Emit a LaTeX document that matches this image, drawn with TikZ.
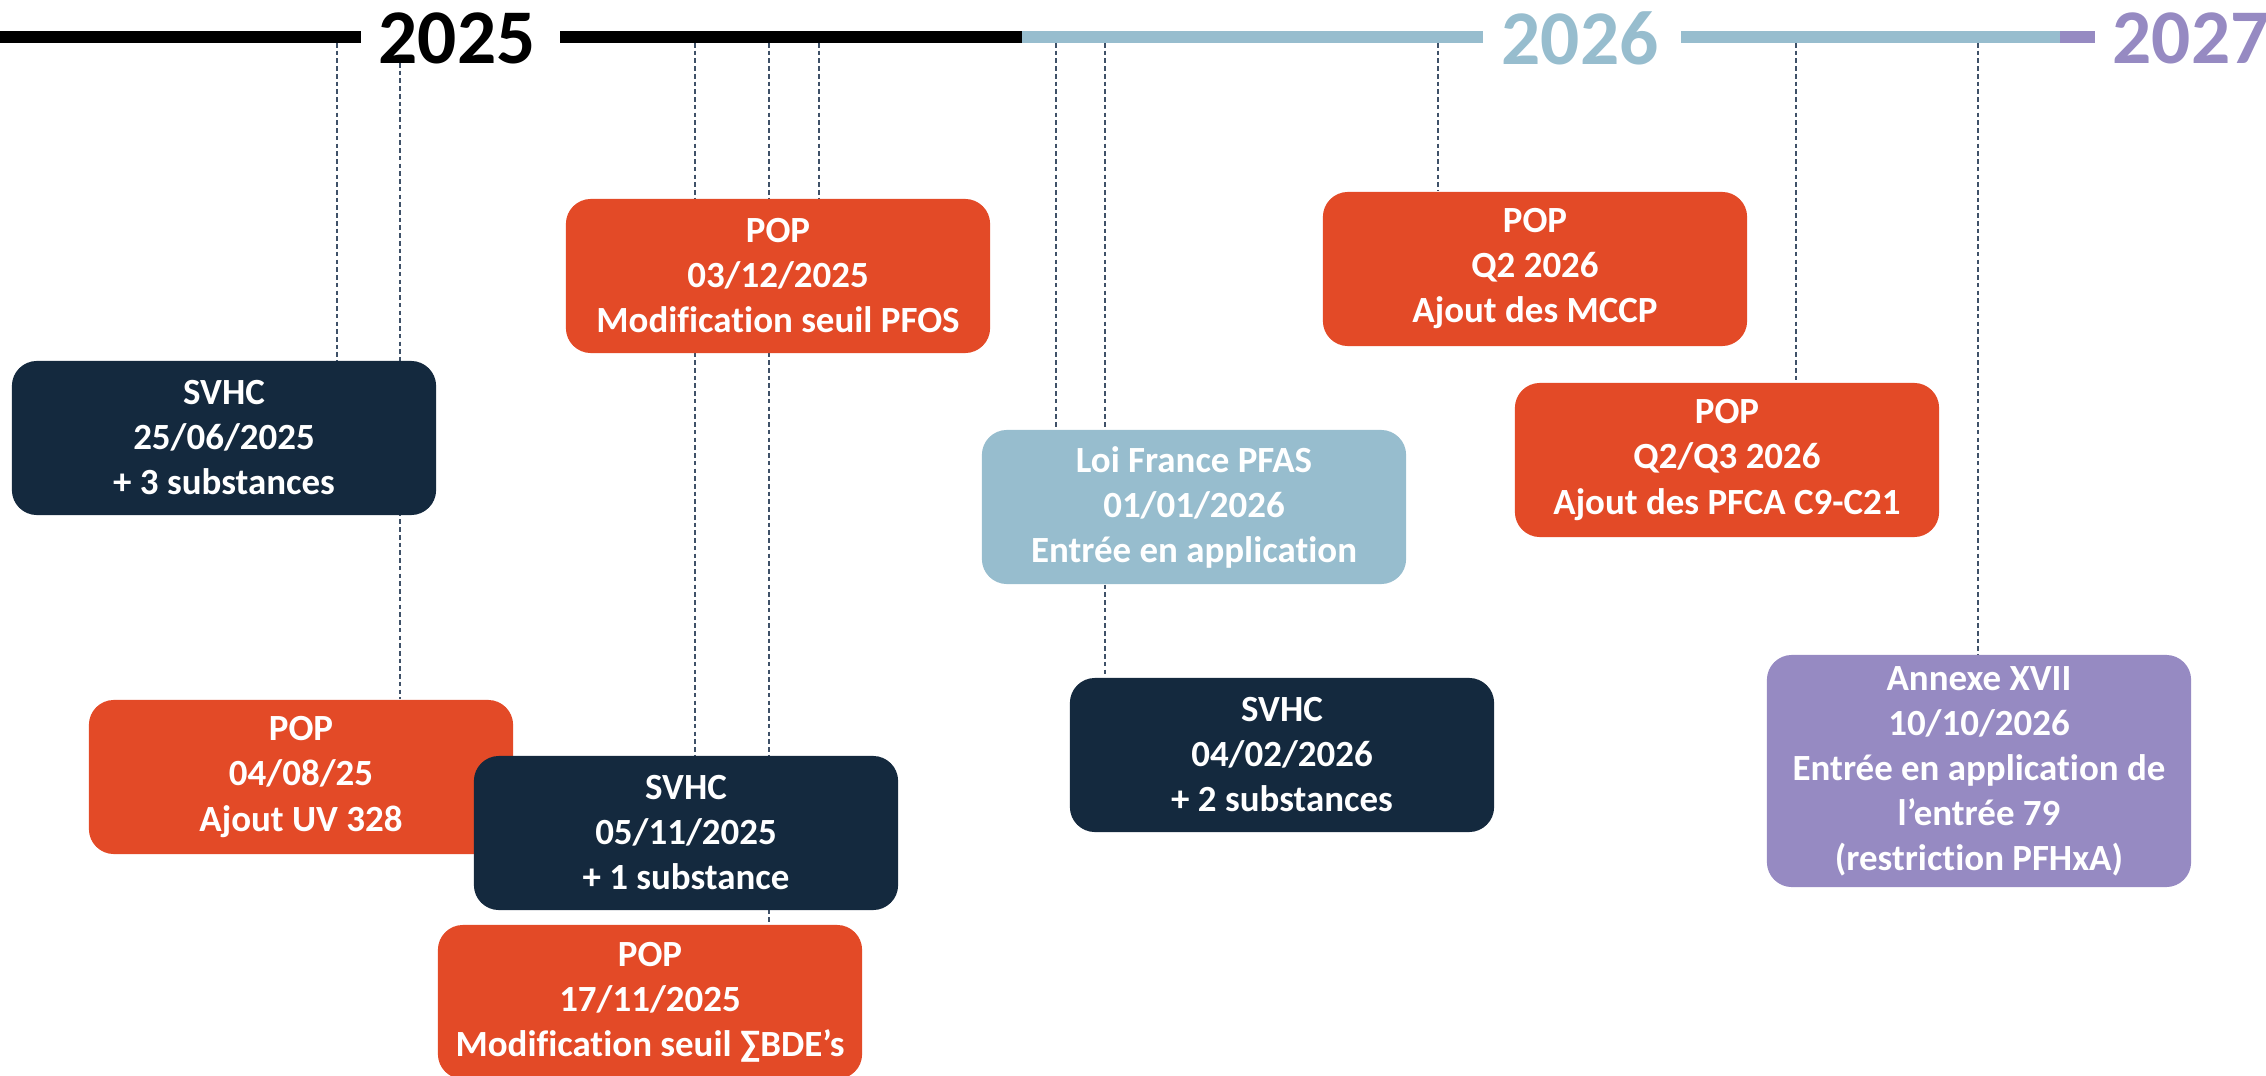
\documentclass[tikz,border=0pt]{standalone}
\usepackage{fontspec}
\setmainfont{Carlito}[Ligatures={NoCommon,NoContextual}]
\usepackage{tikz}
\usetikzlibrary{backgrounds}
\definecolor{navy}{HTML}{14293E}
\definecolor{popred}{HTML}{E34A27}
\definecolor{skyblue}{HTML}{97BDCE}
\definecolor{lilac}{HTML}{968AC2}
\definecolor{dashgray}{HTML}{3F5168}
\tikzset{
  evt/.style={rounded corners=0.25cm, minimum width=4.24cm, minimum height=1.54cm,
    align=center, text=white, inner sep=0pt,
    font=\fontsize{10.5}{12.8}\selectfont\bfseries},
  svhc/.style={evt, fill=navy},
  pop/.style={evt, fill=popred},
  loi/.style={evt, fill=skyblue},
  annexe/.style={evt, fill=lilac, minimum height=2.32cm},
  bar/.style={line width=0.12cm},
  year/.style={font=\fontsize{22}{22}\selectfont\bfseries, inner sep=0pt},
  drop/.style={draw=dashgray, line width=0.5pt, dash pattern=on 1.3pt off 0.9pt},
}

\begin{document}
\begin{tikzpicture}[x=0.01cm, y=-0.01cm]
  \useasboundingbox (0,0) rectangle (2266,1076);

  % timeline
  \draw[bar, black] (0,37) -- (361,37);
  \draw[bar, black] (560,37) -- (1022,37);
  \draw[bar, skyblue] (1022,37) -- (1483,37);
  \draw[bar, skyblue] (1681,37) -- (2060,37);
  \draw[bar, lilac] (2060,37) -- (2095,37);
  \node[year, text=black]   (y25) at (457,38)  {2025};
  \node[year, text=skyblue] (y26) at (1580,38) {2026};
  \node[year, text=lilac]   (y27) at (2191,38) {2027};

  % tick points on the bar
  \coordinate (t1) at (337,43);
  \coordinate (t2) at (400,63);
  \coordinate (t3) at (695,43);
  \coordinate (t4) at (769,43);
  \coordinate (t5) at (819,43);
  \coordinate (t6) at (1056,43);
  \coordinate (t7) at (1105,43);
  \coordinate (t8) at (1438,43);
  \coordinate (t9) at (1796,43);
  \coordinate (t10) at (1978,43);

  % events
  \node[svhc] (svhcA) at (224,438)  {SVHC\\25/06/2025\\+ 3 substances};
  \node[pop]  (popA)  at (301,777)  {POP\\04/08/25\\Ajout UV 328};
  \node[pop]  (popB)  at (778,276)  {POP\\03/12/2025\\Modification seuil PFOS};
  \node[svhc] (svhcB) at (686,833)  {SVHC\\05/11/2025\\+ 1 substance};
  \node[pop]  (popC)  at (650,1002) {POP\\17/11/2025\\Modification seuil ∑BDE’s};
  \node[loi]  (loi)   at (1194,507) {Loi France PFAS\\01/01/2026\\Entrée en application};
  \node[svhc] (svhcC) at (1282,755) {SVHC\\04/02/2026\\+ 2 substances};
  \node[pop]  (popD)  at (1535,269) {POP\\Q2 2026\\Ajout des MCCP};
  \node[pop]  (popE)  at (1727,460) {POP\\Q2/Q3 2026\\Ajout des PFCA C9-C21};
  \node[annexe] (anx) at (1979,771) {Annexe XVII\\10/10/2026\\Entrée en application de\\l’entrée 79\\(restriction PFHxA)};

  % dashed drops, behind the boxes
  \begin{scope}[on background layer]
    \draw[drop] (t1) -- (t1 |- svhcA.north);
    \draw[drop] (t2) -- (t2 |- popA.north);
    \draw[drop] (t3) -- (t3 |- svhcB.north);
    \draw[drop] (t4) -- (t4 |- popC.north);
    \draw[drop] (t5) -- (t5 |- popB.north);
    \draw[drop] (t6) -- (t6 |- loi.north);
    \draw[drop] (t7) -- (t7 |- svhcC.north);
    \draw[drop] (t8) -- (t8 |- popD.north);
    \draw[drop] (t9) -- (t9 |- popE.north);
    \draw[drop] (t10) -- (t10 |- anx.north);
  \end{scope}
\end{tikzpicture}
\end{document}
